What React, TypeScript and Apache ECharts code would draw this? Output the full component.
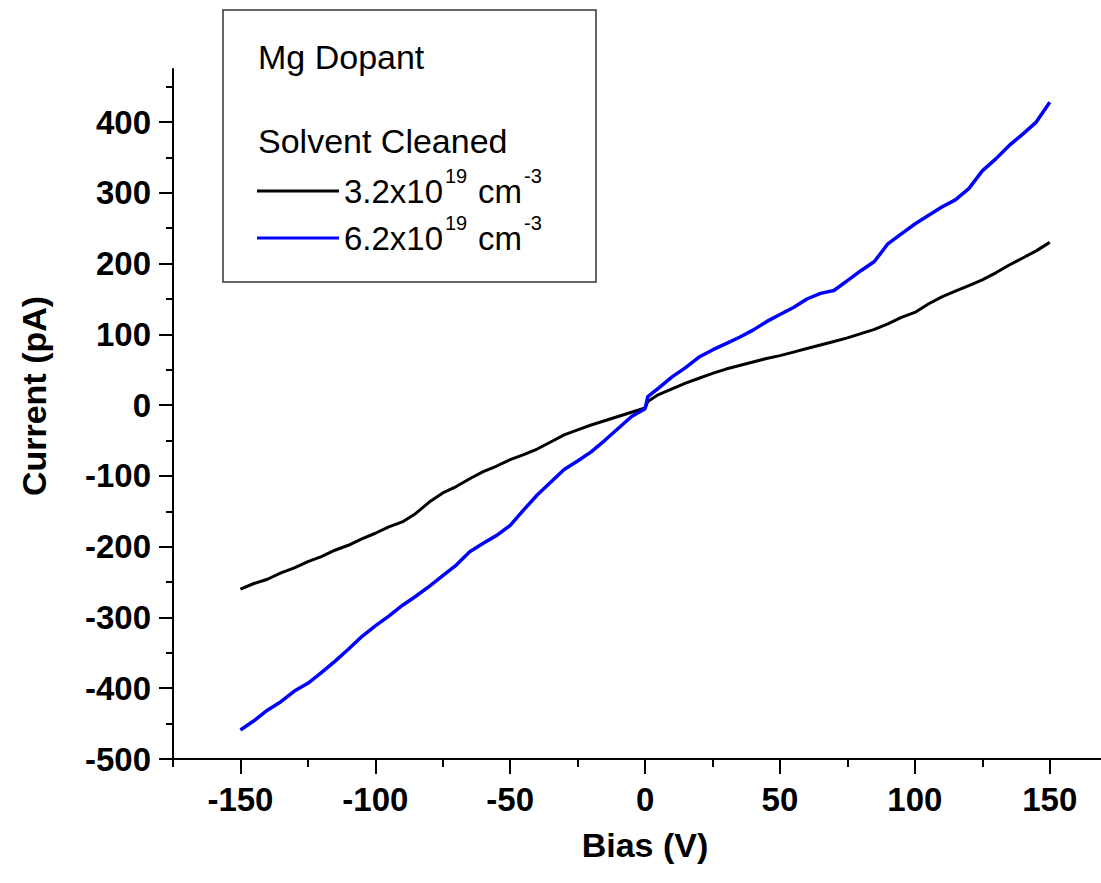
import React, { useEffect, useRef } from "react";
import * as echarts from "echarts";

const bias = [
  -150, -145, -140, -135, -130, -125, -120, -115, -110, -105, -100, -95, -90, -85, -80, -75, -70, -65, -60, -55,
  -50, -45, -40, -35, -30, -25, -20, -15, -10, -5, 0, 1, 5, 10, 15, 20, 25, 30, 35, 40, 45, 50, 55, 60, 65, 70,
  75, 80, 85, 90, 95, 100, 105, 110, 115, 120, 125, 130, 135, 140, 145, 150,
];

const current32 = [
  -260, -252, -246, -237, -230, -221, -214, -205, -198, -189, -181, -172, -165, -153, -137, -124, -115, -104, -94, -86,
  -77, -70, -62, -52, -42, -35, -28, -22, -16, -10, -4, 5, 15, 23, 31, 38, 45, 51, 56, 61, 66, 70, 75, 80, 85, 90,
  95, 101, 107, 115, 124, 131, 143, 153, 161, 169, 177, 187, 198, 208, 218, 230,
];

const current62 = [
  -459, -446, -431, -419, -404, -393, -378, -362, -345, -327, -312, -298, -283, -270, -256, -241, -226, -207, -195, -184,
  -170, -148, -127, -109, -91, -79, -66, -50, -33, -16, -5, 12, 24, 40, 53, 68, 78, 87, 96, 106, 118, 128, 138, 150, 158, 162,
  176, 190, 203, 228, 242, 256, 268, 280, 290, 306, 331, 348, 367, 383, 400, 428,
];

const xMajorTicks = [-150, -100, -50, 0, 50, 100, 150];
const xMinorTicks = [-175, -125, -75, -25, 25, 75, 125];
const yMajorTicks = [-500, -400, -300, -200, -100, 0, 100, 200, 300, 400];
const yMinorTicks = [-450, -350, -250, -150, -50, 50, 150, 250, 350, 450];

const legendTitle = "Mg Dopant";
const legendSubtitle = "Solvent Cleaned";
const seriesNames = ["3.2x10", "6.2x10"];
const xTitle = "Bias (V)";
const yTitle = "Current (pA)";

const FONT = "'Liberation Sans', Arial, sans-serif";

export default function App() {
  const ref = useRef<HTMLDivElement>(null);

  useEffect(() => {
    if (!ref.current) return;
    const chart = echarts.init(ref.current, undefined, { renderer: "svg" });
    const labelStyle = { color: "#000", fontFamily: FONT, fontWeight: "bold" as const, fontSize: 33 };
    const txt = (text: string, x: number, y: number, size: number) => ({
      type: "text",
      x,
      y,
      z: 11,
      style: { text, fontFamily: FONT, fontSize: size, fill: "#000", textAlign: "left", textVerticalAlign: "middle" },
    });
    const legendRow = (name: string, color: string, y: number) => [
      { type: "line", z: 11, shape: { x1: 257, y1: y, x2: 339, y2: y }, style: { stroke: color, lineWidth: 3 } },
      txt(name, 344, y, 33),
      txt("19", 445, y - 15, 20),
      txt("cm", 478, y, 33),
      txt("-3", 524, y - 15, 20),
    ];
    chart.setOption({
      animation: false,
      backgroundColor: "#fff",
      grid: { left: 173, right: 0, top: 69, bottom: 124, containLabel: false },
      xAxis: [
        {
          type: "value",
          min: -175,
          max: 169,
          axisLine: { show: true, onZero: false, lineStyle: { color: "#000", width: 2 } },
          axisTick: { show: true, customValues: xMajorTicks, length: 15, lineStyle: { color: "#000", width: 2 } },
          axisLabel: { show: true, customValues: xMajorTicks, margin: 24, ...labelStyle },
          splitLine: { show: false },
        },
        {
          type: "value",
          position: "bottom",
          min: -175,
          max: 169,
          axisLine: { show: false, onZero: false },
          axisTick: { show: true, customValues: xMinorTicks, length: 8, lineStyle: { color: "#000", width: 2 } },
          axisLabel: { show: false },
          splitLine: { show: false },
        },
      ],
      yAxis: [
        {
          type: "value",
          min: -500,
          max: 475,
          axisLine: { show: true, onZero: false, lineStyle: { color: "#000", width: 2 } },
          axisTick: { show: true, customValues: yMajorTicks, length: 14, lineStyle: { color: "#000", width: 2 } },
          axisLabel: { show: true, customValues: yMajorTicks, margin: 22, ...labelStyle },
          splitLine: { show: false },
        },
        {
          type: "value",
          position: "left",
          min: -500,
          max: 475,
          axisLine: { show: false, onZero: false },
          axisTick: { show: true, customValues: yMinorTicks, length: 7, lineStyle: { color: "#000", width: 2 } },
          axisLabel: { show: false },
          splitLine: { show: false },
        },
      ],
      series: [
        {
          name: seriesNames[0],
          type: "line",
          data: bias.map((b, i) => [b, current32[i]]),
          showSymbol: false,
          symbol: "none",
          lineStyle: { color: "#000", width: 3 },
          z: 2,
        },
        {
          name: seriesNames[1],
          type: "line",
          data: bias.map((b, i) => [b, current62[i]]),
          showSymbol: false,
          symbol: "none",
          lineStyle: { color: "#0000ff", width: 3.5 },
          z: 3,
        },
      ],
      graphic: [
        { type: "rect", z: 10, shape: { x: 223, y: 10, width: 373, height: 272 }, style: { fill: "#fff", stroke: "#333", lineWidth: 1.5 } },
        txt(legendTitle, 258, 57, 34),
        txt(legendSubtitle, 258, 141, 34),
        ...legendRow(seriesNames[0], "#000", 191),
        ...legendRow(seriesNames[1], "#0000ff", 238),
        {
          type: "text",
          x: 34,
          y: 396,
          rotation: Math.PI / 2,
          style: { text: yTitle, fontFamily: FONT, fontWeight: "bold", fontSize: 34, fill: "#000", textAlign: "center", textVerticalAlign: "middle" },
        },
        {
          type: "text",
          x: 645,
          y: 845,
          style: { text: xTitle, fontFamily: FONT, fontWeight: "bold", fontSize: 34, fill: "#000", textAlign: "center", textVerticalAlign: "middle" },
        },
      ],
    });
    return () => chart.dispose();
  }, []);

  return <div ref={ref} style={{ position: "fixed", left: 0, top: 0, width: 1101, height: 883 }} />;
}
